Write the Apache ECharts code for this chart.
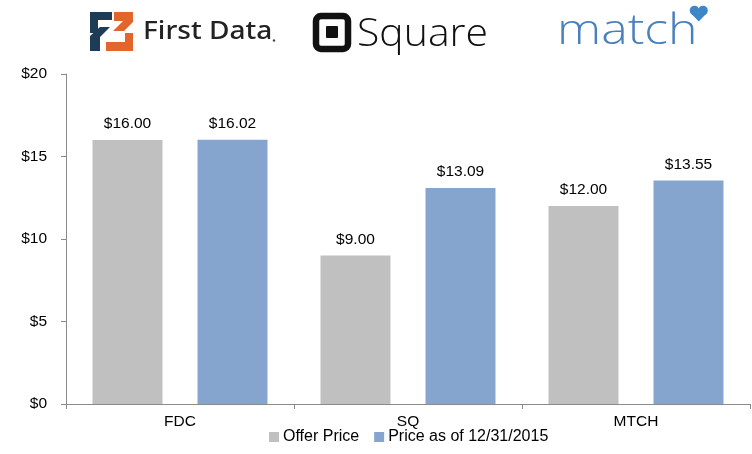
<!DOCTYPE html>
<html><head><meta charset="utf-8">
<script src="https://cdn.jsdelivr.net/npm/echarts@6/dist/echarts.min.js"></script>
<style>html,body{margin:0;padding:0;background:#fff}#c{width:752px;height:454px}</style>
</head><body><div id="c"></div>
<script>
const categories = ['FDC', 'SQ', 'MTCH'];
const offerPrice = [16.00, 9.00, 12.00];
const currentPrice = [16.02, 13.09, 13.55];
const seriesNames = ['Offer Price', 'Price as of 12/31/2015'];
const yTicks = [0, 5, 10, 15, 20];

const chart = echarts.init(document.getElementById('c'), null, {renderer: 'canvas'});
const font = 'Arial, "Liberation Sans", sans-serif';
const lbl = {show: true, position: 'top', distance: 8, color: '#000', fontSize: 15.5, fontFamily: font,
  formatter: p => '$' + p.value.toFixed(2)};

chart.setOption({
  animation: false,
  grid: {left: 66, right: 2, top: 74, bottom: 50, containLabel: false},
  legend: {
    top: 424, left: 264, itemWidth: 10, itemHeight: 10, itemGap: 15,
    icon: 'rect', textStyle: {fontSize: 16, fontFamily: font, color: '#000', padding: [0, 0, 0, -1]},
    data: seriesNames
  },
  xAxis: {
    type: 'category', data: categories,
    axisLine: {lineStyle: {color: '#8a8a8a', width: 1}},
    axisTick: {show: true, length: 5, lineStyle: {color: '#8a8a8a'}},
    axisLabel: {fontSize: 15.5, fontFamily: font, color: '#000', margin: 10}
  },
  yAxis: {
    type: 'value', min: yTicks[0], max: yTicks[yTicks.length - 1], interval: 5,
    splitLine: {show: false},
    axisLine: {show: true, lineStyle: {color: '#8a8a8a', width: 1}},
    axisTick: {show: true, length: 5, lineStyle: {color: '#8a8a8a'}},
    axisLabel: {fontSize: 15.5, fontFamily: font, color: '#000', margin: 19, formatter: v => '$' + v}
  },
  series: [
    {name: seriesNames[0], type: 'bar', data: offerPrice, barWidth: 70, barGap: '50%',
     itemStyle: {color: '#c0c0c0'}, label: lbl},
    {name: seriesNames[1], type: 'bar', data: currentPrice, barWidth: 70,
     itemStyle: {color: '#85a5cf'}, label: lbl}
  ],
  graphic: [
    // First Data icon
    {type: 'polygon', shape: {points: [[90,12],[112,12],[112,20],[98,20],[98,33],[90,33]]}, style: {fill: '#1d3c56'}},
    {type: 'polygon', shape: {points: [[114,12],[133,12],[133,22],[124,31],[113,31],[123,21],[114,21]]}, style: {fill: '#e2662c'}},
    {type: 'polygon', shape: {points: [[90,36],[100,27],[110,27],[100,37],[100,51],[90,51]]}, style: {fill: '#1d3c56'}},
    {type: 'polygon', shape: {points: [[106,42],[125,42],[125,33],[133,33],[133,51],[106,51]]}, style: {fill: '#e2662c'}},
    {type: 'text', x: 143, y: 19, scaleX: 1.08, style: {text: 'First Data', fontSize: 26, fontFamily: '"Noto Sans", sans-serif', fill: '#222', fontWeight: 500}},
    {type: 'circle', shape: {cx: 274, cy: 40.5, r: 1.2}, style: {fill: '#444'}},
    // Square logo
    {type: 'rect', shape: {x: 316, y: 16, width: 32, height: 33, r: 5}, style: {fill: 'none', stroke: '#111', lineWidth: 6.5}},
    {type: 'rect', shape: {x: 326, y: 26, width: 12, height: 12, r: 1}, style: {fill: '#111'}},
    {type: 'text', x: 357, y: 15, scaleX: 1.05, style: {text: 'Square', fontSize: 39, fontFamily: '"Open Sans", sans-serif', fill: '#111', fontWeight: 300}},
    // match logo
    {type: 'text', x: 557, y: 11, scaleX: 1.19, style: {text: 'match', fontSize: 42, fontFamily: '"Open Sans", sans-serif', fill: '#4a80bd', fontWeight: 300}},
    {type: 'circle', shape: {cx: 694.5, cy: 10.5, r: 4.8}, style: {fill: '#3d87c9'}},
    {type: 'circle', shape: {cx: 703, cy: 10.5, r: 4.8}, style: {fill: '#3d87c9'}},
    {type: 'polygon', shape: {points: [[690.1,12.5],[707.4,12.5],[698.75,21.5]]}, style: {fill: '#3d87c9'}}
  ]
});
</script></body></html>
